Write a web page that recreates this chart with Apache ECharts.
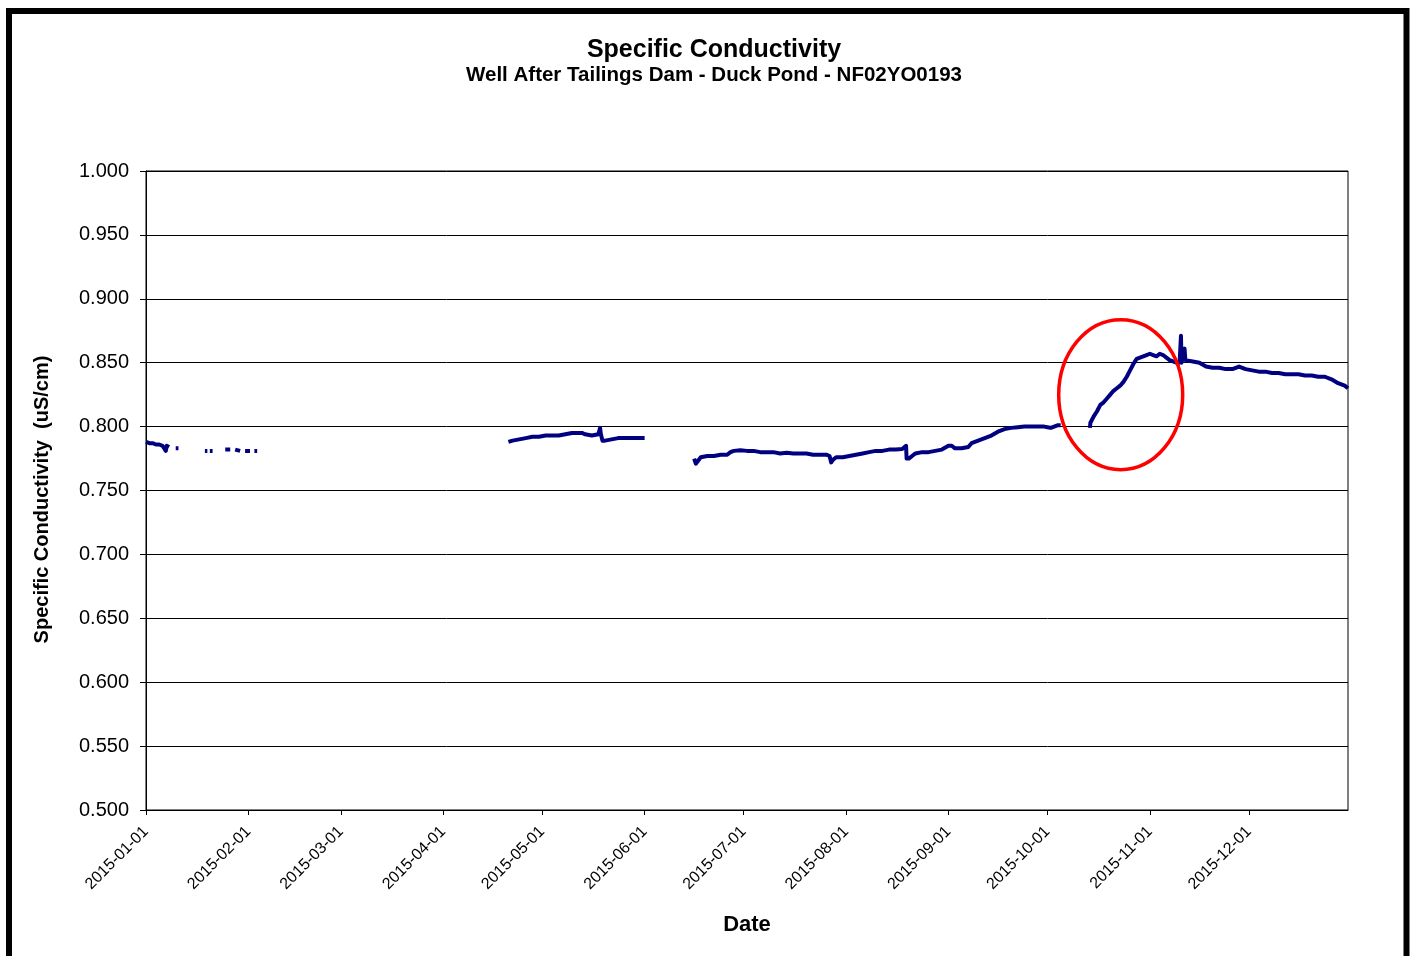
<!DOCTYPE html>
<html>
<head>
<meta charset="utf-8">
<script src="https://cdn.jsdelivr.net/npm/echarts@6/dist/echarts.min.js"></script>
<style>
html,body{margin:0;padding:0;background:#fff;}
#chart{width:1413px;height:956px;}
</style>
</head>
<body>
<div id="chart"></div>
<script>
// ---- data ----
const chartTitle = 'Specific Conductivity';
const chartSubtitle = 'Well After Tailings Dam - Duck Pond - NF02YO0193';
const yAxisTitle = 'Specific Conductivity  (uS/cm)';
const xAxisTitle = 'Date';
const xMin = '2015-01-01';
const xMax = '2015-12-31';
const yMin = 0.5, yMax = 1.0, yStep = 0.05;

// timestamps (null value = gap in record)
const times = [
  // January record
  '2015-01-01 00:00','2015-01-02 00:00','2015-01-03 00:00','2015-01-04 00:00','2015-01-05 00:00',
  '2015-01-06 00:00','2015-01-06 12:00','2015-01-07 00:00','2015-01-07 06:00','2015-01-08 00:00',
  '2015-01-09 00:00',
  '2015-01-10 00:00','2015-01-10 20:00',
  '2015-01-15 00:00',
  '2015-01-18 20:00','2015-01-19 14:00',
  '2015-01-20 00:00',
  '2015-01-20 08:00','2015-01-21 04:00',
  '2015-01-22 00:00',
  '2015-01-25 00:00','2015-01-26 12:00',
  '2015-01-27 00:00',
  '2015-01-28 00:00','2015-01-29 12:00',
  '2015-01-30 00:00',
  '2015-01-31 00:00','2015-02-01 12:00',
  '2015-02-02 00:00',
  '2015-02-02 20:00','2015-02-03 16:00',
  '2015-03-01 00:00',
  // April - May
  '2015-04-20 18:00','2015-04-22 00:00','2015-04-24 00:00','2015-04-26 00:00','2015-04-28 00:00',
  '2015-04-30 00:00','2015-05-02 00:00','2015-05-04 00:00','2015-05-06 00:00','2015-05-08 00:00',
  '2015-05-10 00:00','2015-05-12 00:00','2015-05-13 00:00','2015-05-14 00:00','2015-05-16 00:00',
  '2015-05-18 00:00','2015-05-18 12:00','2015-05-18 18:00','2015-05-19 06:00','2015-05-20 00:00',
  '2015-05-22 00:00','2015-05-24 00:00','2015-05-26 00:00','2015-05-28 00:00','2015-05-30 00:00',
  '2015-06-01 00:00',
  '2015-06-08 00:00',
  // June - October
  '2015-06-16 00:00','2015-06-16 12:00','2015-06-17 00:00','2015-06-18 00:00','2015-06-20 00:00',
  '2015-06-22 00:00','2015-06-24 00:00','2015-06-26 00:00','2015-06-27 00:00','2015-06-28 00:00',
  '2015-06-30 00:00','2015-07-02 00:00','2015-07-04 00:00','2015-07-06 00:00','2015-07-08 00:00',
  '2015-07-10 00:00','2015-07-12 00:00','2015-07-14 00:00','2015-07-16 00:00','2015-07-18 00:00',
  '2015-07-20 00:00','2015-07-22 00:00','2015-07-24 00:00','2015-07-26 00:00','2015-07-27 00:00',
  '2015-07-27 12:00','2015-07-28 00:00','2015-07-29 00:00','2015-07-31 00:00','2015-08-02 00:00',
  '2015-08-04 00:00','2015-08-06 00:00','2015-08-08 00:00','2015-08-10 00:00','2015-08-12 00:00',
  '2015-08-14 00:00','2015-08-16 00:00','2015-08-18 00:00','2015-08-19 04:00','2015-08-19 08:00',
  '2015-08-20 00:00','2015-08-21 00:00','2015-08-22 00:00','2015-08-24 00:00','2015-08-26 00:00',
  '2015-08-28 00:00','2015-08-30 00:00','2015-09-01 00:00','2015-09-02 00:00','2015-09-03 00:00',
  '2015-09-05 00:00','2015-09-07 00:00','2015-09-08 00:00','2015-09-09 00:00','2015-09-10 00:00',
  '2015-09-12 00:00','2015-09-14 00:00','2015-09-16 00:00','2015-09-18 00:00','2015-09-20 00:00',
  '2015-09-22 00:00','2015-09-24 00:00','2015-09-26 00:00','2015-09-28 00:00','2015-09-30 00:00',
  '2015-10-01 00:00','2015-10-02 00:00','2015-10-03 00:00','2015-10-04 00:00','2015-10-05 00:00',
  '2015-10-09 00:00',
  // October - December
  '2015-10-13 20:00','2015-10-14 00:00','2015-10-15 00:00','2015-10-16 00:00','2015-10-17 00:00',
  '2015-10-18 00:00','2015-10-19 00:00','2015-10-20 00:00','2015-10-21 00:00','2015-10-22 00:00',
  '2015-10-23 00:00','2015-10-24 00:00','2015-10-25 00:00','2015-10-26 00:00','2015-10-27 00:00',
  '2015-10-28 00:00','2015-10-29 00:00','2015-10-30 00:00','2015-10-31 00:00','2015-11-01 00:00',
  '2015-11-02 00:00','2015-11-03 00:00','2015-11-04 00:00','2015-11-05 00:00','2015-11-06 00:00',
  '2015-11-07 00:00','2015-11-08 00:00','2015-11-09 00:00','2015-11-10 00:00','2015-11-10 10:00',
  '2015-11-10 14:00','2015-11-11 00:00','2015-11-11 12:00','2015-11-11 18:00','2015-11-12 00:00',
  '2015-11-14 00:00','2015-11-16 00:00','2015-11-18 00:00','2015-11-20 00:00','2015-11-22 00:00',
  '2015-11-24 00:00','2015-11-26 00:00','2015-11-28 00:00','2015-11-30 00:00','2015-12-02 00:00',
  '2015-12-04 00:00','2015-12-06 00:00','2015-12-08 00:00','2015-12-10 00:00','2015-12-12 00:00',
  '2015-12-14 00:00','2015-12-16 00:00','2015-12-18 00:00','2015-12-20 00:00','2015-12-22 00:00',
  '2015-12-24 00:00','2015-12-26 00:00','2015-12-28 00:00','2015-12-30 00:00','2015-12-31 00:00'
];

const values = [
  0.788,0.787,0.787,0.786,0.786,
  0.785,0.784,0.781,0.785,0.784,
  null,
  0.783,0.783,
  null,
  0.781,0.781,
  null,
  0.781,0.781,
  null,
  0.782,0.782,
  null,
  0.782,0.781,
  null,
  0.781,0.781,
  null,
  0.781,0.781,
  null,
  0.788,0.789,0.790,0.791,0.792,
  0.792,0.793,0.793,0.793,0.794,
  0.795,0.795,0.795,0.794,0.793,
  0.794,0.799,0.794,0.789,0.789,
  0.790,0.791,0.791,0.791,0.791,
  0.791,
  null,
  0.775,0.771,0.772,0.776,0.777,
  0.777,0.778,0.778,0.780,0.781,
  0.7815,0.781,0.781,0.780,0.780,
  0.780,0.779,0.7795,0.779,0.779,
  0.779,0.778,0.778,0.778,0.777,
  0.772,0.774,0.776,0.776,0.777,
  0.778,0.779,0.780,0.781,0.781,
  0.782,0.782,0.7825,0.785,0.775,
  0.775,0.777,0.779,0.780,0.780,
  0.781,0.782,0.785,0.785,0.783,
  0.783,0.784,0.787,0.788,0.789,
  0.791,0.793,0.796,0.798,0.799,
  0.7995,0.800,0.800,0.800,0.800,
  0.7995,0.799,0.800,0.801,0.801,
  null,
  0.799,0.803,0.808,0.812,0.817,
  0.819,0.822,0.825,0.828,0.830,
  0.832,0.835,0.839,0.844,0.849,
  0.853,0.854,0.855,0.856,0.857,
  0.856,0.855,0.857,0.856,0.854,
  0.852,0.851,0.850,0.850,0.871,
  0.850,0.849,0.861,0.852,0.852,
  0.851,0.850,0.847,0.846,0.846,
  0.845,0.845,0.847,0.845,0.844,
  0.843,0.843,0.842,0.842,0.841,
  0.841,0.841,0.840,0.840,0.839,
  0.839,0.837,0.834,0.832,0.830
];

// highlighted region (red ellipse) centre, in data units
const highlightCentre = ['2015-10-23 04:00', 0.825];

// ---- chart ----
const FONT = '"Liberation Sans", Arial, sans-serif';
const seriesData = times.map((t, i) => [t, values[i] === null ? '-' : values[i]]);

const chart = echarts.init(document.getElementById('chart'), null, {renderer: 'canvas'});
const option = {
  backgroundColor: '#fff',
  animation: false,
  title: {
    text: chartTitle,
    subtext: chartSubtitle,
    left: 714,
    textAlign: 'center',
    top: 37,
    padding: 0,
    itemGap: 1,
    textStyle: {fontFamily: FONT, fontSize: 25, fontWeight: 'bold', color: '#000', lineHeight: 26},
    subtextStyle: {fontFamily: FONT, fontSize: 20.5, fontWeight: 'bold', color: '#000', lineHeight: 22}
  },
  grid: {left: 146, right: 65, top: 171, bottom: 146, show: true, borderColor: '#000', borderWidth: 1, backgroundColor: 'transparent'},
  xAxis: {
    type: 'time',
    min: xMin,
    max: xMax,
    splitNumber: 12,
    minInterval: 28 * 86400000,
    maxInterval: 31 * 86400000,
    name: xAxisTitle,
    nameLocation: 'middle',
    nameGap: 104,
    nameTextStyle: {fontFamily: FONT, fontSize: 22, fontWeight: 'bold', color: '#000'},
    axisLine: {show: true, lineStyle: {color: '#000', width: 1}},
    axisTick: {show: true, inside: false, length: 5, lineStyle: {color: '#000'}},
    axisLabel: {
      rotate: 45,
      margin: 19,
      fontFamily: FONT,
      fontSize: 16,
      color: '#000',
      formatter: '{yyyy}-{MM}-{dd}',
      hideOverlap: false
    },
    splitLine: {show: false}
  },
  yAxis: {
    type: 'value',
    min: yMin,
    max: yMax,
    interval: yStep,
    name: yAxisTitle,
    nameLocation: 'middle',
    nameGap: 94,
    nameTextStyle: {fontFamily: FONT, fontSize: 20, fontWeight: 'bold', color: '#000', padding: [0, 18, 0, 0]},
    axisLine: {show: true, lineStyle: {color: '#000', width: 1}},
    axisTick: {show: true, inside: false, length: 6, lineStyle: {color: '#000'}},
    axisLabel: {
      fontFamily: FONT,
      fontSize: 20,
      color: '#000',
      margin: 17,
      formatter: v => v.toFixed(3)
    },
    splitLine: {show: true, lineStyle: {color: '#000', width: 1}}
  },
  series: [{
    type: 'line',
    data: seriesData,
    connectNulls: false,
    showSymbol: false,
    symbol: 'none',
    lineStyle: {color: '#000080', width: 4, join: 'round'},
    itemStyle: {color: '#000080'},
    z: 5
  }]
};
chart.setOption(option);

// outer frame + highlight ellipse (positioned via the chart's own scales)
const c = chart.convertToPixel({xAxisIndex: 0, yAxisIndex: 0}, [echarts.time.parse(highlightCentre[0]).getTime(), highlightCentre[1]]);
chart.setOption({
  graphic: [
    {type: 'rect', shape: {x: 9, y: 11, width: 1397.5, height: 1000}, style: {fill: 'none', stroke: '#000', lineWidth: 6}, z: 100, silent: true},
    {type: 'ellipse', shape: {cx: c[0], cy: c[1], rx: 62, ry: 75}, style: {fill: 'none', stroke: '#ff0000', lineWidth: 3.5}, z: 100, silent: true}
  ]
});
</script>
</body>
</html>
